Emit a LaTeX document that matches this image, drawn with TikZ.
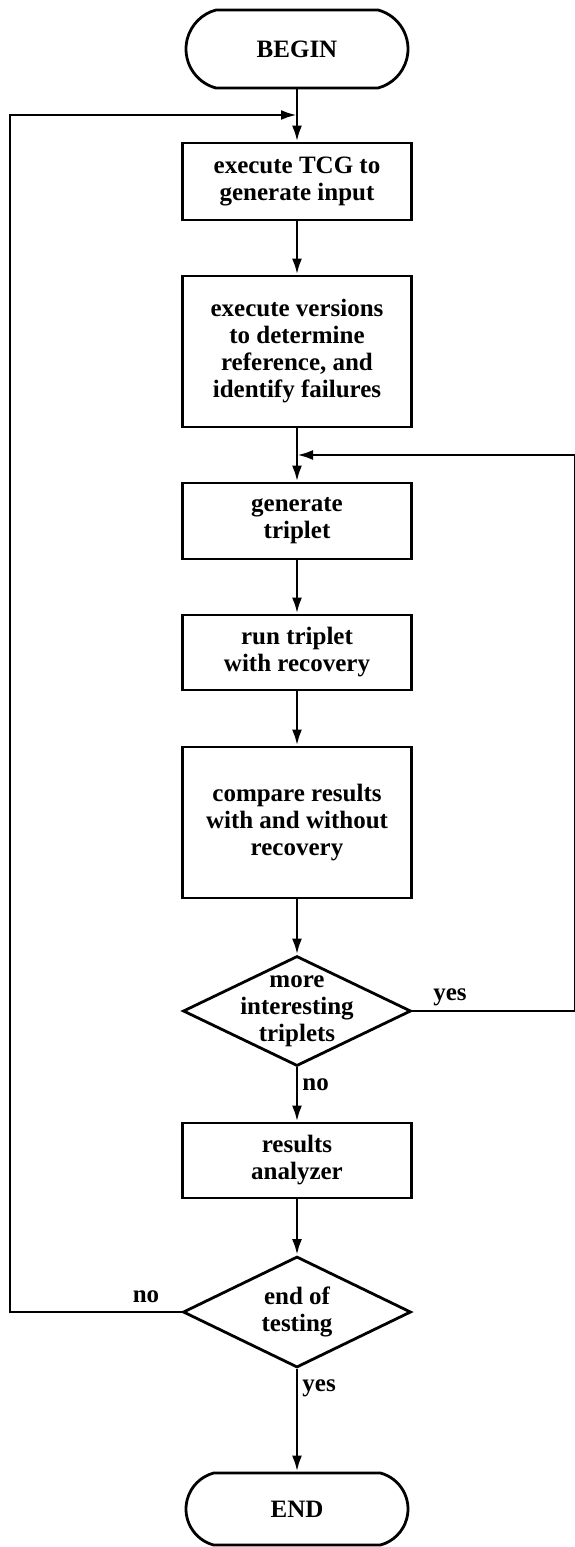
\documentclass[tikz,border=0pt]{standalone}
\usepackage{fontspec}
\setmainfont{Liberation Serif}
\usetikzlibrary{shapes.geometric,shapes.misc,arrows.meta}
\begin{document}
\begin{tikzpicture}[x=1pt,y=-1pt,
  line width=2.8pt,
  font=\fontsize{25}{27}\selectfont\bfseries,
  proc/.style={draw, rectangle, minimum width=229pt, align=center, inner sep=0pt},
  term/.style={draw, rounded rectangle, rounded rectangle arc length=150, minimum width=222pt, inner sep=0pt},
  decis/.style={draw, diamond, inner sep=0pt, minimum width=228pt, minimum height=110pt},
  dtext/.style={align=center, inner sep=0pt},
  arr/.style={-{Latex[length=16pt,width=10pt]}},
  lbl/.style={inner sep=0pt}
]
\useasboundingbox (0,0) rectangle (574,1547);

\node[term, minimum height=78pt] (begin) at (297,49) {BEGIN};
\node[proc, minimum height=77pt] (b1) at (297,181.5) {execute TCG to\\generate input};
\node[proc, minimum height=151pt] (b2) at (297,351.5) {execute versions\\to determine\\reference, and\\identify failures};
\node[proc, minimum height=76pt] (b3) at (297,521) {generate\\triplet};
\node[proc, minimum height=75pt] (b4) at (297,652.5) {run triplet\\with recovery};
\node[proc, minimum height=151pt] (b5) at (297,822.5) {compare results\\with and without\\recovery};
\node[decis] (d1) at (297,1011) {};
\node[dtext] (d1t) at (297,1011) {more\\interesting\\triplets};
\node[proc, minimum height=75pt] (b6) at (297,1160.5) {results\\analyzer};
\node[decis, minimum height=111pt] (d2) at (297,1312) {};
\node[dtext] (d2t) at (297,1312) {end of\\testing};
\node[term, minimum height=72pt] (end) at (297,1509) {END};

\coordinate (j1) at (297,115);
\coordinate (lx) at (10,115);
\coordinate (j2) at (297,455);
\coordinate (rx) at (575.5,455);

\draw (begin.south) -- (j1);
\draw[arr] (j1) -- (b1.north);
\draw[arr] (b1.south) -- (b2.north);
\draw (b2.south) -- (j2);
\draw[arr] (j2) -- (b3.north);
\draw[arr] (b3.south) -- (b4.north);
\draw[arr] (b4.south) -- (b5.north);
\draw[arr] (b5.south) -- (d1.north);
\draw[arr] (d1.south) -- (b6.north);
\draw[arr] (b6.south) -- (d2.north);
\draw[arr] (d2.south) -- (end.north);
\draw[arr] (d2.west) -| (lx) -- (j1);
\draw[arr] (d1.east) -| (rx) -- (j2);

\node[lbl] (yes1) at (450,997) {yes};
\node[lbl, anchor=west] (no1) at (301,1085) {no};
\node[lbl] (no2) at (146,1297) {no};
\node[lbl, anchor=west] (yes2) at (301,1388) {yes};
\end{tikzpicture}
\end{document}
